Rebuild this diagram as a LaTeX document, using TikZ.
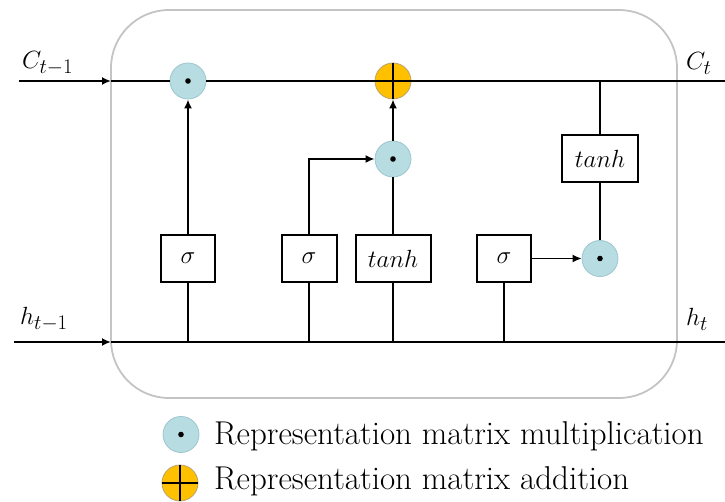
\documentclass[tikz,border=0pt]{standalone}
\usetikzlibrary{arrows.meta}
\definecolor{multfill}{HTML}{B7DDE3}
\definecolor{multdraw}{HTML}{9CC5CC}
\definecolor{addfill}{HTML}{FFC000}
\definecolor{adddraw}{HTML}{B9A36E}
\definecolor{cellgray}{HTML}{C4C4C4}
\begin{document}
\begin{tikzpicture}[x=1pt,y=-1pt,
  line/.style={line width=2pt},
  arr/.style={line width=2pt,-{Latex[length=9pt,width=8pt]}},
  thinarr/.style={line width=1.3pt,-{Latex[length=9pt,width=8pt]}},
  mult/.style={circle,fill=multfill,draw=multdraw,line width=0.8pt,minimum size=36pt,inner sep=0pt},
  add/.style={circle,fill=addfill,draw=adddraw,line width=0.8pt,minimum size=36pt,inner sep=0pt},
  gate/.style={draw,line width=2pt,minimum height=47pt,inner sep=0pt,font=\fontsize{27}{32}\selectfont},
  lbl/.style={anchor=base west,inner sep=0pt,font=\fontsize{32}{36}\selectfont},
  leg/.style={anchor=base west,inner sep=0pt,font=\fontsize{33}{38}\selectfont}
]
\useasboundingbox (0,0) rectangle (725,502);
\draw[cellgray,line width=1.8pt,rounded corners=58pt] (111,10) rectangle (677,398);

% operator nodes
\node[mult] (m1) at (188,81) {};
\node[add]  (a1) at (393,81) {};
\node[mult] (m2) at (393,159) {};
\node[mult] (m3) at (600,258.5) {};

% gate boxes
\node[gate,minimum width=54pt] (s1) at (188,258.5) {$\sigma$};
\node[gate,minimum width=55pt] (s2) at (309,258.5) {$\sigma$};
\node[gate,minimum width=75pt] (t1) at (393,258.5) {$tanh$};
\node[gate,minimum width=54pt] (s3) at (504,258.5) {$\sigma$};
\node[gate,minimum width=76pt] (t2) at (600,159) {$tanh$};

% line end points
\coordinate (cin) at (19,81);
\coordinate (cent) at (111,81);
\coordinate (cout) at (725,81);
\coordinate (hin) at (14,342);
\coordinate (hent) at (111,342);
\coordinate (hout) at (725,342);

% cell state line
\draw[arr] (cin) -- (cent);
\draw[line] (cent) -- (m1.west);
\draw[line] (m1.east) -- (a1.west);
\draw[line] (a1.east) -- (cout);
\draw[line] (a1.north) -- (a1.south);
\draw[line] (a1.west) -- (a1.east);

% hidden state line
\draw[arr] (hin) -- (hent);
\draw[line] (hent) -- (hout);

% gate inputs from h
\draw[line] (s1.south |- hout) -- (s1.south);
\draw[line] (s2.south |- hout) -- (s2.south);
\draw[line] (t1.south |- hout) -- (t1.south);
\draw[line] (s3.south |- hout) -- (s3.south);

% gate outputs
\draw[arr] (s1.north) -- (m1.south);
\draw[arr] (s2.north) |- (m2.west);
\draw[line] (t1.north) -- (m2.south);
\draw[arr] (m2.north) -- (a1.south);
\draw[thinarr] (s3.east) -- (m3.west);
\draw[line] (m3.north) -- (t2.south);
\draw[line] (t2.north) -- (t2.north |- cout);

% dots
\fill (m1.center) circle (2.8pt);
\fill (m2.center) circle (2.8pt);
\fill (m3.center) circle (2.8pt);

% labels
\node[lbl] (lc0) at (22,69) {$C_{t-1}$};
\node[lbl] (lh0) at (20,325) {$h_{t-1}$};
\node[lbl] (lc1) at (686,70) {$C_t$};
\node[lbl] (lh1) at (686,326) {$h_t$};

% legend
\node[mult] (lm) at (181,434.5) {};
\fill (lm.center) circle (2.8pt);
\node[add] (la) at (180,483) {};
\draw[line] (la.north) -- (la.south);
\draw[line] (la.west) -- (la.east);
\node[leg] (lmt) at (214,444) {Representation matrix multiplication};
\node[leg] (lat) at (214,489) {Representation matrix addition};
\end{tikzpicture}
\end{document}
